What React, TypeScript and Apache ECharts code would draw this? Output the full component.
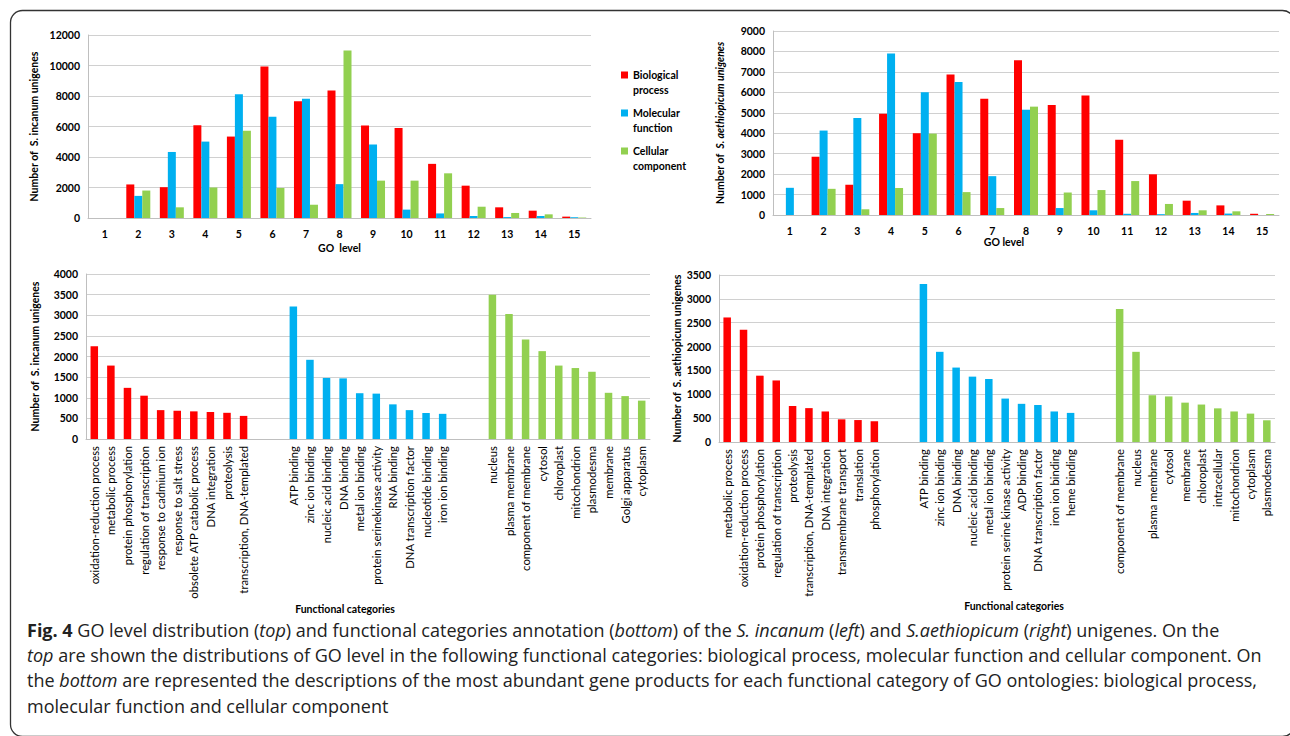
import React, { useEffect, useRef } from 'react';
import * as echarts from 'echarts';

// ---------- DATA ----------
const goLevels = ['1', '2', '3', '4', '5', '6', '7', '8', '9', '10', '11', '12', '13', '14', '15'];
const seriesNames = ['Biological process', 'Molecular function', 'Cellular component'];

// Top-left: S. incanum GO level distribution
const incanumBP = [0, 2200, 2020, 6090, 5340, 9940, 7660, 8360, 6060, 5900, 3550, 2120, 700, 480, 90];
const incanumMF = [0, 1450, 4330, 5010, 8120, 6640, 7820, 2220, 4820, 550, 300, 130, 60, 130, 50];
const incanumCC = [0, 1800, 700, 2000, 5720, 1970, 870, 10990, 2450, 2450, 2930, 740, 330, 240, 30];

// Top-right: S. aethiopicum GO level distribution
const aethBP = [0, 2850, 1480, 4950, 4000, 6870, 5690, 7570, 5380, 5840, 3680, 1990, 700, 470, 60];
const aethMF = [1330, 4130, 4750, 7900, 6000, 6500, 1900, 5150, 340, 230, 60, 40, 100, 70, 0];
const aethCC = [0, 1280, 280, 1320, 3980, 1120, 340, 5300, 1100, 1220, 1660, 540, 230, 180, 50];

// Bottom-left: S. incanum functional categories
const incBPNames = ['oxidation-reduction process', 'metabolic process', 'protein phosphorylation', 'regulation of transcription', 'response to cadmium ion', 'response to salt stress', 'obsolete ATP catabolic process', 'DNA integration', 'proteolysis', 'transcription, DNA-templated'];
const incBPValues = [2250, 1780, 1240, 1050, 700, 685, 670, 655, 635, 560];
const incMFNames = ['ATP binding', 'zinc ion binding', 'nucleic acid binding', 'DNA binding', 'metal ion binding', 'protein serinekinase activity', 'RNA binding', 'DNA transcription factor', 'nucleotide binding', 'iron ion binding'];
const incMFValues = [3210, 1920, 1480, 1470, 1110, 1100, 840, 700, 630, 610];
const incCCNames = ['nucleus', 'plasma membrane', 'component of membrane', 'cytosol', 'chloroplast', 'mitochondrion', 'plasmodesma', 'membrane', 'Golgi apparatus', 'cytoplasm'];
const incCCValues = [3500, 3030, 2410, 2130, 1780, 1720, 1630, 1120, 1040, 930];

// Bottom-right: S. aethiopicum functional categories
const aetBPNames = ['metabolic process', 'oxidation-reduction process', 'protein phosphorylation', 'regulation of transcription', 'proteolysis', 'transcription, DNA-templated', 'DNA integration', 'transmembrane transport', 'translation', 'phosphorylation'];
const aetBPValues = [2610, 2350, 1390, 1290, 755, 710, 640, 475, 460, 435];
const aetMFNames = ['ATP binding', 'zinc ion binding', 'DNA binding', 'nucleic acid binding', 'metal ion binding', 'protein serine kinase activity', 'ADP binding', 'DNA transcription factor', 'iron ion binding', 'heme binding'];
const aetMFValues = [3310, 1890, 1560, 1370, 1320, 910, 800, 775, 640, 610];
const aetCCNames = ['component of membrane', 'nucleus', 'plasma membrane', 'cytosol', 'membrane', 'chloroplast', 'intracellular', 'mitochondrion', 'cytoplasm', 'plasmodesma'];
const aetCCValues = [2790, 1890, 980, 955, 825, 785, 705, 640, 595, 455];

// ---------- STYLE ----------
const COLORS = ['#FF0000', '#00B0F0', '#92D050'];
const FONT = 'Lato, "Open Sans", sans-serif';
const CAPTION_FONT = '"Open Sans", Lato, sans-serif';
const GRID_COLOR = '#d0d0d0';
const AXIS_COLOR = '#bfbfbf';

function buildCategories(groups: string[][]): string[] {
  const out: string[] = [];
  groups.forEach((g, gi) => {
    if (gi > 0) out.push('', '');
    out.push(...g);
  });
  return out;
}

function buildItems(groups: number[][]): any[] {
  const out: any[] = [];
  groups.forEach((g, gi) => {
    if (gi > 0) out.push('-', '-');
    g.forEach((v) => out.push({ value: v, itemStyle: { color: COLORS[gi] } }));
  });
  return out;
}

const numLabel = {
  fontFamily: FONT,
  fontSize: 10.5,
  fontWeight: 'bold' as const,
  color: '#000',
  margin: 8,
  formatter: (v: any) => String(v),
};

function valueAxis(gridIndex: number, max: number, interval: number, name: string, nameGap: number, rich?: any) {
  return {
    type: 'value',
    gridIndex,
    min: 0,
    max,
    interval,
    name,
    nameLocation: 'middle',
    nameRotate: 90,
    nameGap,
    nameTextStyle: { fontFamily: FONT, fontSize: 10.5, fontWeight: 'bold', color: '#000', rich },
    axisLine: { show: true, lineStyle: { color: AXIS_COLOR } },
    axisTick: { show: false },
    axisLabel: numLabel,
    splitLine: { show: true, lineStyle: { color: GRID_COLOR, width: 1 } },
  };
}

function App() {
  const ref = useRef<HTMLDivElement>(null);

  useEffect(() => {
    if (!ref.current) return;
    const chart = echarts.init(ref.current, undefined, { renderer: 'svg' });

    const bottomLeftCats = buildCategories([incBPNames, incMFNames, incCCNames]);
    const bottomLeftItems = buildItems([incBPValues, incMFValues, incCCValues]);
    const bottomRightCats = buildCategories([aetBPNames, aetMFNames, aetCCNames]);
    const bottomRightItems = buildItems([aetBPValues, aetMFValues, aetCCValues]);

    const catLabel = { fontFamily: FONT, fontSize: 11.3, color: '#000', rotate: 90, interval: 0, margin: 7 };
    const CAP_SIZE = 18;
    const captionRich = {
      b: { fontFamily: CAPTION_FONT, fontSize: CAP_SIZE, fontWeight: 'bold', fill: '#222' },
      i: { fontFamily: CAPTION_FONT, fontSize: CAP_SIZE, fontStyle: 'italic', fill: '#222' },
    };
    const captionLines = [
      '{b|Fig. 4} GO level distribution ({i|top}) and functional categories annotation ({i|bottom}) of the {i|S. incanum} ({i|left}) and {i|S.aethiopicum} ({i|right}) unigenes. On the',
      '{i|top} are shown the distributions of GO level in the following functional categories: biological process, molecular function and cellular component. On',
      'the {i|bottom} are represented the descriptions of the most abundant gene products for each functional category of GO ontologies: biological process,',
      'molecular function and cellular component',
    ];
    const captionY = [633, 658, 683, 709];

    const topBars = (xi: number, values: number[][]) =>
      values.map((vals, k) => ({
        type: 'bar',
        name: seriesNames[k],
        xAxisIndex: xi,
        yAxisIndex: xi,
        data: vals,
        barWidth: 8,
        barGap: '0%',
        itemStyle: { color: COLORS[k] },
      }));

    chart.setOption({
      animation: false,
      backgroundColor: '#ffffff',
      textStyle: { fontFamily: FONT },
      legend: {
        data: seriesNames,
        orient: 'vertical',
        left: 621,
        top: 67.5,
        padding: 0,
        itemGap: 8,
        itemWidth: 7,
        itemHeight: 22,
        // square in the top part of the icon box so it lines up with the first text line
        icon: 'path://M0,0L7,0L7,7L0,7Z M0,22L7,22',
        selectedMode: false,
        formatter: (name: string) => name.replace(' ', '\n'),
        textStyle: { fontFamily: FONT, fontSize: 10.5, fontWeight: 'bold', color: '#000', lineHeight: 15 },
      },
      grid: [
        { left: 88, top: 35, width: 503, height: 183 },
        { left: 773, top: 31, width: 506, height: 184 },
        { left: 86, top: 274, width: 564, height: 165 },
        { left: 719, top: 275, width: 556, height: 167 },
      ],
      xAxis: [
        {
          type: 'category', gridIndex: 0, data: goLevels,
          name: 'GO  level', nameLocation: 'middle', nameGap: 24,
          nameTextStyle: { fontFamily: FONT, fontSize: 10.5, fontWeight: 'bold', color: '#000' },
          axisLine: { lineStyle: { color: AXIS_COLOR } }, axisTick: { show: false },
          axisLabel: { ...numLabel, margin: 10 },
        },
        {
          type: 'category', gridIndex: 1, data: goLevels,
          name: 'GO level', nameLocation: 'middle', nameGap: 20,
          nameTextStyle: { fontFamily: FONT, fontSize: 10.5, fontWeight: 'bold', color: '#000', padding: [0, 44, 0, 0] },
          axisLine: { lineStyle: { color: AXIS_COLOR } }, axisTick: { show: false },
          axisLabel: { ...numLabel, margin: 10 },
        },
        {
          type: 'category', gridIndex: 2, data: bottomLeftCats,
          name: 'Functional categories', nameLocation: 'middle', nameGap: 158,
          nameTextStyle: { fontFamily: FONT, fontSize: 10.5, fontWeight: 'bold', color: '#000', padding: [0, 46, 0, 0] },
          axisLine: { lineStyle: { color: AXIS_COLOR } }, axisTick: { show: false },
          axisLabel: catLabel,
        },
        {
          type: 'category', gridIndex: 3, data: bottomRightCats,
          name: 'Functional categories', nameLocation: 'middle', nameGap: 156,
          nameTextStyle: { fontFamily: FONT, fontSize: 10.5, fontWeight: 'bold', color: '#000', padding: [0, 0, 0, 34] },
          axisLine: { lineStyle: { color: AXIS_COLOR } }, axisTick: { show: false },
          axisLabel: catLabel,
        },
      ],
      yAxis: [
        valueAxis(0, 12000, 2000, 'Number of  S. incanum unigenes', 49),
        valueAxis(1, 9000, 1000, 'Number of  {i|S. aethiopicum unigenes}', 48, {
          i: { fontFamily: FONT, fontSize: 10.5, fontWeight: 'bold', fontStyle: 'italic', color: '#000' },
        }),
        valueAxis(2, 4000, 500, 'Number of  S. incanum unigenes', 46),
        valueAxis(3, 3500, 500, 'Number of  S. aethiopicum unigenes', 35),
      ],
      series: [
        ...topBars(0, [incanumBP, incanumMF, incanumCC]),
        ...topBars(1, [aethBP, aethMF, aethCC]),
        { type: 'bar', name: 'S. incanum functional categories', xAxisIndex: 2, yAxisIndex: 2, data: bottomLeftItems, barWidth: 7.5 },
        { type: 'bar', name: 'S. aethiopicum functional categories', xAxisIndex: 3, yAxisIndex: 3, data: bottomRightItems, barWidth: 7.5 },
      ],
      graphic: [
        {
          type: 'rect',
          shape: { x: 10.5, y: 10.5, width: 1284, height: 726, r: 12 },
          style: { fill: 'none', stroke: '#333', lineWidth: 1.3 },
          silent: true,
        },
        ...captionLines.map((t, k) => ({
          type: 'text',
          left: 27,
          top: captionY[k] - 12.5,
          style: {
            text: t,
            fontFamily: CAPTION_FONT,
            fontSize: CAP_SIZE,
            fill: '#222',
            rich: captionRich,
          },
          silent: true,
        })),
      ],
    });

    return () => chart.dispose();
  }, []);

  return (
    <div
      ref={ref}
      style={{ position: 'fixed', left: 0, top: 0, width: 1290, height: 736, background: '#fff' }}
    />
  );
}

export default App;
